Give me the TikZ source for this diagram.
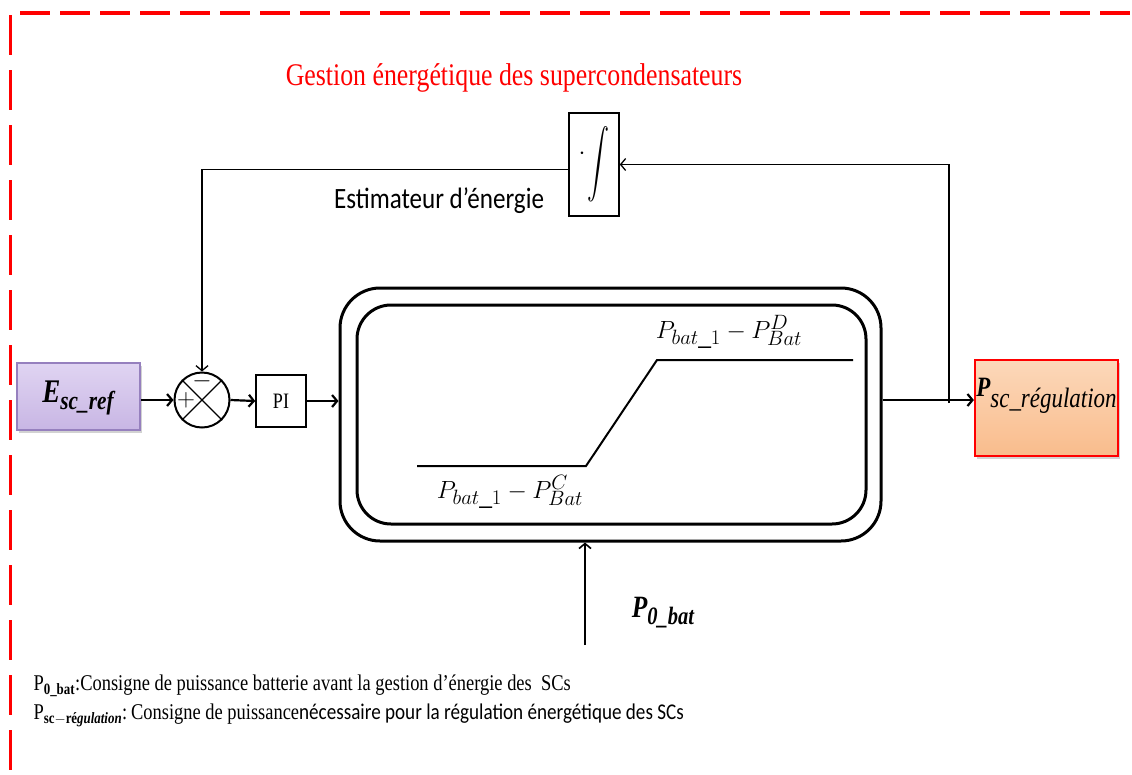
\documentclass[tikz,border=0pt]{standalone}
\usepackage{fontspec}
\usepackage{graphicx}
\setmainfont[FakeStretch=0.82]{Liberation Serif}
\newfontfamily\calibri[FakeStretch=0.85]{Carlito}
\usetikzlibrary{arrows.meta,shadows,positioning}

\definecolor{lavtop}{RGB}{224,212,242}
\definecolor{lavbot}{RGB}{200,182,228}
\definecolor{lavline}{RGB}{150,128,190}
\definecolor{orgtop}{RGB}{252,216,186}
\definecolor{orgbot}{RGB}{249,188,140}

\tikzset{
  sig/.style={line width=2.2pt, -{Straight Barb[length=5pt,width=12pt]}},
  fb/.style={line width=1.3pt},
  fbarrow/.style={line width=1.3pt, -{Straight Barb[length=5pt,width=12pt]}},
  blk/.style={draw, line width=1.6pt, fill=white, inner sep=0pt},
  redborder/.style={red, line width=3.5pt},
  inbox/.style={draw=lavline, line width=1.2pt, top color=lavtop, bottom color=lavbot,
    drop shadow={shadow xshift=2pt, shadow yshift=-3pt, fill=black!35}},
  outbox/.style={draw=red, line width=2.2pt, top color=orgtop, bottom color=orgbot,
    drop shadow={shadow xshift=2pt, shadow yshift=-3pt, fill=black!35}},
}

\begin{document}
\begin{tikzpicture}[x=1pt, y=-1pt]
    \useasboundingbox (0,0) rectangle (1132,774);
    % Frame (dashed red)
    \draw[redborder, dash pattern=on 30pt off 10pt] (20,13) -- (1132,13);
    \draw[redborder, dash pattern=on 40pt off 15pt] (10.7,15) -- (10.7,774);

    % Title
    \node[red, font=\fontsize{31.5}{33}\selectfont] (title) at (514,78) {Gestion énergétique des supercondensateurs};

    % Blocks
    \node[inbox, minimum width=123, minimum height=67] (esc) at (78.5,396.5) {};
    \node (esctxt) at (78,398) {{\fontsize{33}{33}\selectfont\bfseries\itshape E}\raisebox{-7pt}{\fontsize{26}{26}\selectfont\bfseries\itshape sc\_ref}};
    \node[draw, circle, line width=2pt, minimum size=55, inner sep=0pt] (sum) at (202,400) {};
    \draw[line width=1.3pt] (sum.north west) -- (sum.south east);
    \draw[line width=1.3pt] (sum.north east) -- (sum.south west);
    \node[right=0pt of sum.west, font=\fontsize{24}{24}\selectfont] (plus) {$+$};
    \node[below=-2pt of sum.north, font=\fontsize{24}{24}\selectfont] (minus) {$-$};
    \node[blk, minimum width=50, minimum height=52, font=\fontsize{22}{24}\selectfont] (pi) at (281,401) {PI};
    \node[blk, minimum width=50, minimum height=103] (integ) at (594,164.5)
      {\raisebox{14pt}{\fontsize{24}{24}\selectfont$\cdot$}\hspace{2pt}\scalebox{2.2}[3.4]{$\displaystyle\int$}};
    \node[font=\calibri\fontsize{29.5}{32}\selectfont] (est) at (439,201) {Estimateur d’énergie};

    % Saturation block
    \node[draw, line width=3pt, rounded corners=40, minimum width=541, minimum height=253] (sat) at (610.5,414.5) {};
    \node[draw, line width=3pt, rounded corners=34, minimum width=509, minimum height=219] (satin) at (611.5,414.5) {};
    \coordinate (s1) at (417,466);
    \coordinate (s2) at (586,466);
    \coordinate (s3) at (657,360);
    \coordinate (s4) at (853,360);
    \draw[line width=2pt] (s1) -- (s2) -- (s3) -- (s4);
    \node[font=\fontsize{31}{33}\selectfont] (pmax) at (729,332) {$P_{bat\_1}-P_{Bat}^{D}$};
    \node[font=\fontsize{31}{33}\selectfont] (pmin) at (510,492) {$P_{bat\_1}-P_{Bat}^{C}$};

    % Output block
    \node[outbox, minimum width=143, minimum height=96] (psc) at (1046.5,408) {};
    \node (psctxt) at ([yshift=12pt]psc.center) {{\fontsize{28}{28}\selectfont\bfseries\itshape P}\raisebox{-11pt}{\fontsize{28}{28}\selectfont\itshape sc\_régulation}};

    % Signal path
    \draw[sig] (esc.east |- sum) -- (sum.west);
    \draw[sig] (sum.east) -- (pi.west);
    \draw[sig] (pi.east) -- (pi.east -| sat.west);
    \coordinate (out) at (sat.east |- sum);
    \draw[sig] (out) -- (out -| psc.west);

    % Energy estimator loop
    \coordinate (tap) at (949,403);
    \draw[fbarrow] (tap) |- (integ.east);
    \draw[fbarrow] ([yshift=-5pt]integ.west) -| (sum.north);

    % Battery power input
    \coordinate (p0) at (585,645);
    \draw[line width=1.6pt, -{Straight Barb[length=5pt,width=12pt]}] (p0) -- (p0 |- sat.south);
    \node (p0lbl) at (663,613) {{\fontsize{31}{31}\selectfont\bfseries\itshape P}\raisebox{-7pt}{\fontsize{25}{25}\selectfont\bfseries\itshape 0\_bat}};

    % Notes
    \node[anchor=west, font=\fontsize{22.5}{24}\selectfont] (note1) at (30,686) {P\textsubscript{\bfseries 0\_bat}:Consigne de puissance batterie avant la gestion d’énergie des~ SCs};
    \node[anchor=west, font=\fontsize{22.5}{24}\selectfont] (note2) at (30,715) {P\textsubscript{\bfseries sc$-$ré\textit{gulation}}:\,Consigne de puissance{\calibri nécessaire pour la régulation énergétique des SCs}};
\end{tikzpicture}
\end{document}
